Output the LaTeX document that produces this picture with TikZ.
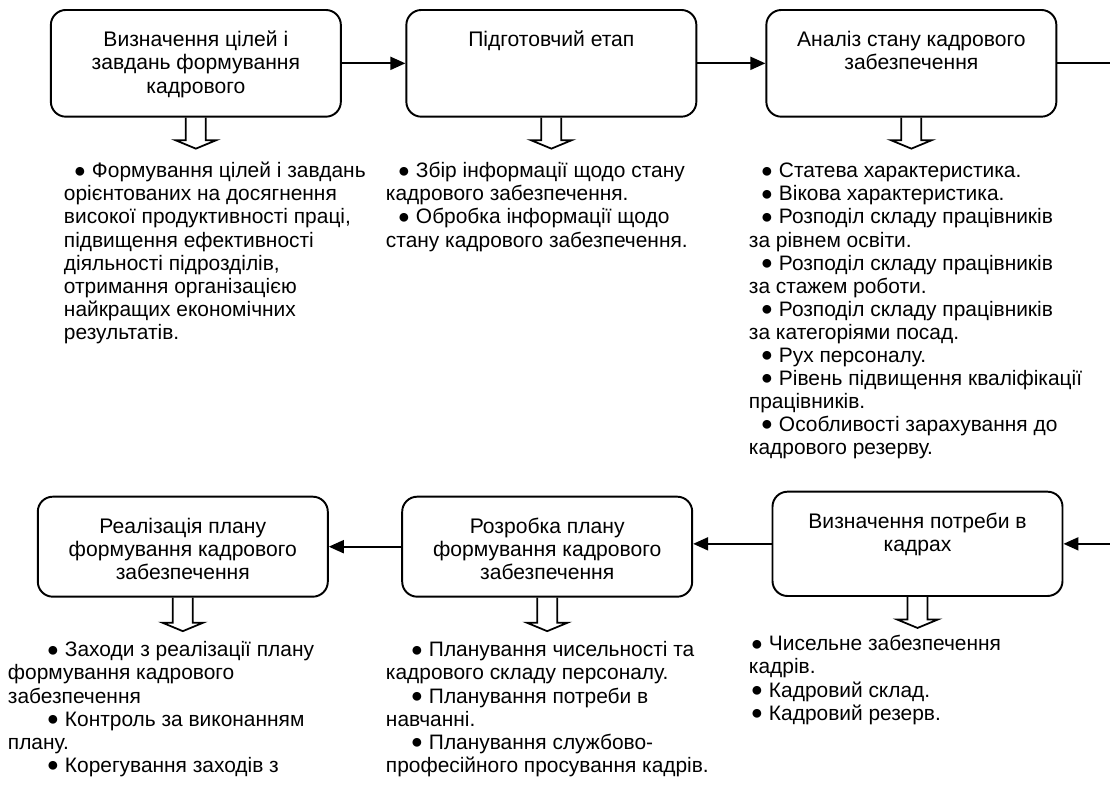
\documentclass[tikz,border=0pt]{standalone}
\usepackage{fontspec}
\setmainfont{Liberation Sans}
\usepackage{tikz}
\usetikzlibrary{arrows.meta}

\newcommand{\stagetext}[2]{\parbox[c][#1][t]{5.8cm}{\centering\rule{0pt}{0.734cm}#2}}
\newcommand{\pnt}[1][0.24cm]{\hspace*{#1}\raisebox{0.02em}{\fontsize{11.5}{11.5}\selectfont ●}\ }
\newcommand{\hollowdown}[2]{\draw[line width=1pt] (#1.south) ++(-0.2,0) -- ++(0,-#2) -- ++(-0.21,0) -- ++(0.41,-0.17) -- ++(0.41,0.17) -- ++(-0.21,0) -- ++(0,#2);}

\tikzset{
  stage/.style={draw, line width=1.1pt, rounded corners=0.3cm, inner sep=0pt,
    font=\fontsize{12}{13.26}\selectfont},
  notes/.style={anchor=north west, inner sep=0pt, align=left,
    font=\fontsize{11.9}{13.1}\selectfont}
}

\begin{document}
\begin{tikzpicture}[>={Triangle[length=0.3cm,width=0.26cm]}, line width=1.1pt]
\useasboundingbox (0,0) rectangle (22.2,15.74);
% top row
\node[stage] (goals) at (3.917,14.473) {\stagetext{2.134cm}{Визначення цілей і\\завдань формування\\кадрового}};
\node[stage] (prep) at (11.027,14.473) {\stagetext{2.134cm}{Підготовчий етап}};
\node[stage] (anal) at (18.227,14.473) {\stagetext{2.134cm}{Аналіз стану кадрового\\забезпечення}};
\coordinate (outR) at (22.2,14.473);
% bottom row
\node[stage] (impl) at (3.656,4.806) {\stagetext{2.0cm}{Реалізація плану\\формування кадрового\\забезпечення}};
\node[stage] (plan) at (10.944,4.806) {\stagetext{2.0cm}{Розробка плану\\формування кадрового\\забезпечення}};
\node[stage] (need) at (18.35,4.863) {\stagetext{2.086cm}{Визначення потреби в\\кадрах}};
\coordinate (inR) at (22.2,4.863);

\draw [->] (goals) -- (prep);
\draw [->] (prep) -- (anal);
\draw (anal) -- (outR);
\draw [->] (inR) -- (need);
\draw [->] (need.west) -- (need.west -| plan.east);
\draw [->] (plan) -- (impl);

\hollowdown{goals}{0.45}
\hollowdown{prep}{0.45}
\hollowdown{anal}{0.45}
\hollowdown{impl}{0.5}
\hollowdown{plan}{0.5}
\hollowdown{need}{0.45}

% notes under the stages
\node[notes] (goalsN) at (1.26,12.6) {\rule{0pt}{0.4cm}\pnt[0.2cm]Формування цілей і завдань\\
орієнтованих на досягнення\\
високої продуктивності праці,\\
підвищення ефективності\\
діяльності підрозділів,\\
отримання організацією\\
найкращих економічних\\
результатів.};
\node[notes] (prepN) at (7.7,12.6) {\rule{0pt}{0.4cm}\pnt Збір інформації щодо стану\\
кадрового забезпечення.\\
\pnt Обробка інформації щодо\\
стану кадрового забезпечення.};
\node[notes] (analN) at (14.96,12.6) {\rule{0pt}{0.4cm}\pnt Статева характеристика.\\
\pnt Вікова характеристика.\\
\pnt Розподіл складу працівників\\
за рівнем освіти.\\
\pnt Розподіл складу працівників\\
за стажем роботи.\\
\pnt Розподіл складу працівників\\
за категоріями посад.\\
\pnt Рух персоналу.\\
\pnt Рівень підвищення кваліфікації\\
працівників.\\
\pnt Особливості зарахування до\\
кадрового резерву.};
\node[notes] (implN) at (0.14,3.02) {\rule{0pt}{0.4cm}\pnt[0.78cm]Заходи з реалізації плану\\
формування кадрового\\
забезпечення\\
\pnt[0.78cm]Контроль за виконанням\\
плану.\\
\pnt[0.78cm]Корегування заходів з};
\node[notes] (planN) at (7.7,3.02) {\rule{0pt}{0.4cm}\pnt[0.5cm]Планування чисельності та\\
кадрового складу персоналу.\\
\pnt[0.5cm]Планування потреби в\\
навчанні.\\
\pnt[0.5cm]Планування службово-\\
професійного просування кадрів.};
\node[notes] (needN) at (14.96,3.14) {\rule{0pt}{0.4cm}\pnt[0.04cm]Чисельне забезпечення\\
кадрів.\\
\pnt[0.04cm]Кадровий склад.\\
\pnt[0.04cm]Кадровий резерв.};
\end{tikzpicture}
\end{document}
